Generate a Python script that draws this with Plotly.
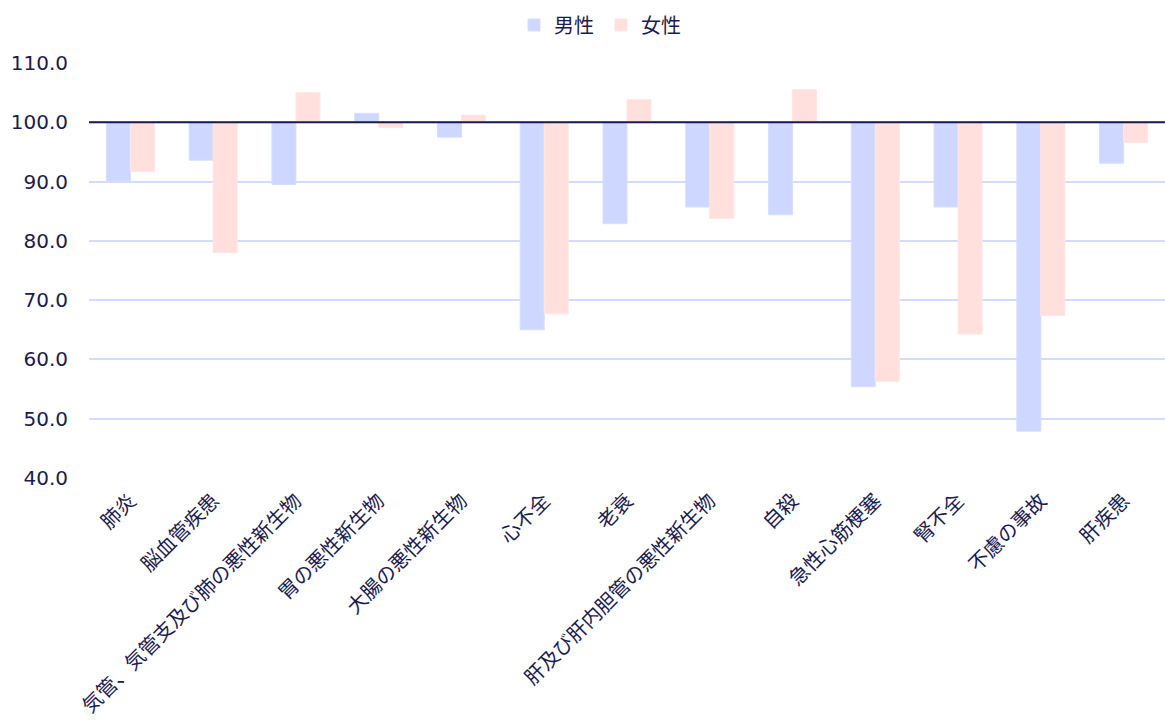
import plotly.graph_objects as go

categories = [
    "肺炎", "脳血管疾患", "気管、気管支及び肺の悪性新生物", "胃の悪性新生物",
    "大腸の悪性新生物", "心不全", "老衰", "肝及び肝内胆管の悪性新生物",
    "自殺", "急性心筋梗塞", "腎不全", "不慮の事故", "肝疾患",
]
male = [90.0, 93.6, 89.5, 101.5, 97.5, 65.0, 82.9, 85.7, 84.4, 55.4, 85.7, 47.9, 93.1]
female = [91.7, 78.0, 105.0, 99.1, 101.2, 67.7, 103.8, 83.8, 105.5, 56.3, 64.3, 67.4, 96.6]

BASE = 100.0
NAVY = "#1b1b4d"
FONT = "Noto Sans CJK JP"

fig = go.Figure()
fig.add_trace(go.Bar(
    name="男性", x=categories, y=[v - BASE for v in male], base=BASE,
    marker=dict(color="rgb(205,215,255)", line=dict(color="rgba(215,222,255,1)", width=1)),
    customdata=male, hovertemplate="%{x}<br>男性: %{customdata:.1f}<extra></extra>",
))
fig.add_trace(go.Bar(
    name="女性", x=categories, y=[v - BASE for v in female], base=BASE,
    marker=dict(color="rgb(255,224,220)", line=dict(color="rgba(255,230,226,1)", width=1)),
    customdata=female, hovertemplate="%{x}<br>女性: %{customdata:.1f}<extra></extra>",
))

# reference line at the base value
fig.add_hline(y=BASE, line=dict(color=NAVY, width=2))

fig.update_layout(
    width=1165, height=725,
    margin=dict(l=89, r=0, t=63, b=247, autoexpand=False),
    paper_bgcolor="white", plot_bgcolor="white",
    barmode="group", bargap=0.42, bargroupgap=0,
    font=dict(family=FONT, color=NAVY, size=18),
    legend=dict(orientation="h", x=601 / 1165, xanchor="center", xref="container",
                y=1 - 25 / 725, yanchor="middle", yref="container",
                itemwidth=30, entrywidth=42,
                font=dict(size=20, color=NAVY), traceorder="normal"),
    showlegend=True,
)
fig.update_xaxes(tickangle=-45, showgrid=False, showline=False, ticks="",
                 ticklabelstandoff=6,
                 tickfont=dict(size=20, color=NAVY, family=FONT))
fig.update_yaxes(range=[40, 110], dtick=10, tickformat=".1f", showgrid=True,
                 gridcolor="#d3dbff", gridwidth=2, zeroline=False, ticks="",
                 ticklabelstandoff=20,
                 tickfont=dict(size=20, color=NAVY, family="DejaVu Sans, " + FONT))

fig.write_html("out.html")
